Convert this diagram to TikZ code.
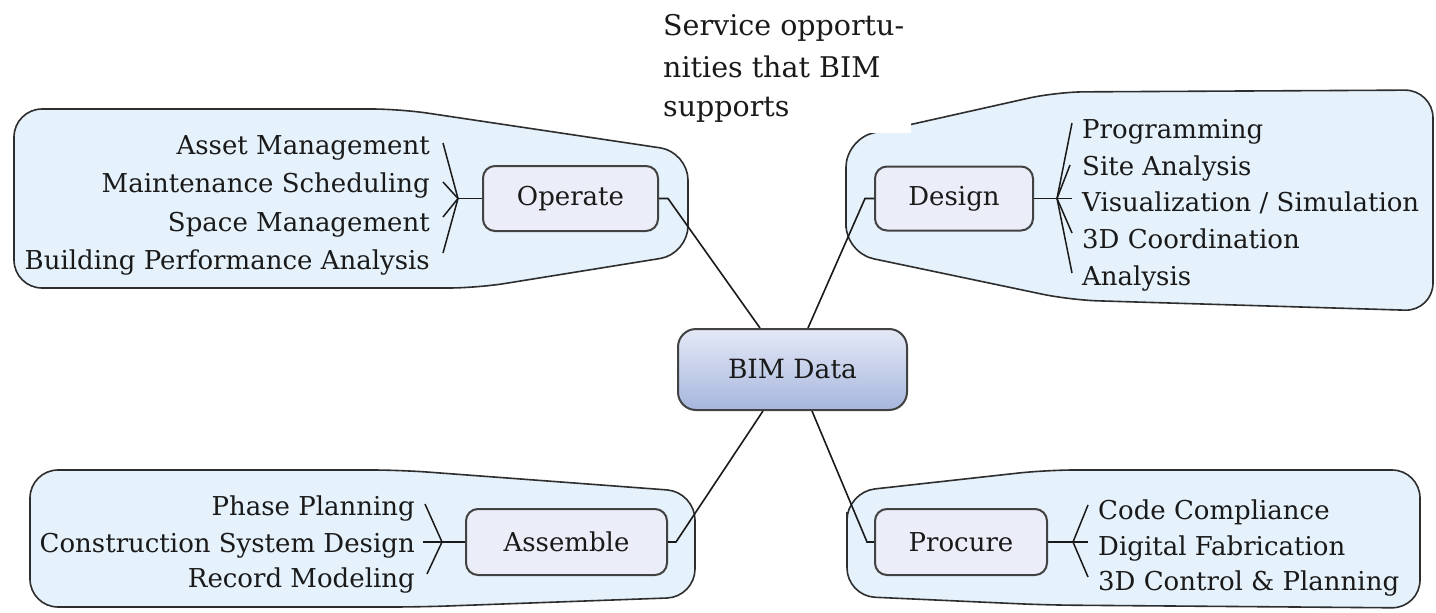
\documentclass[tikz,border=0pt]{standalone}
\usepackage{fontspec}
\setmainfont{DejaVu Serif}
\usetikzlibrary{calc}
\definecolor{blobfill}{HTML}{E5F1FB}
\definecolor{blobline}{HTML}{2E2E2E}
\definecolor{boxfill}{HTML}{EBEEF8}
\definecolor{boxline}{HTML}{424242}
\definecolor{bimtop}{HTML}{E4E9F6}
\definecolor{bimbot}{HTML}{A6B6DD}
\definecolor{ink}{HTML}{1A1A1A}
\begin{document}
\begin{tikzpicture}[x=1pt,y=-1pt,
  blob/.style={draw=blobline, fill=blobfill, line width=1.6pt, rounded corners=28pt},
  smallbox/.style={draw=boxline, fill=boxfill, line width=2pt, rounded corners=12pt,
    inner sep=0pt, font=\fontsize{26}{31}\selectfont, text=ink},
  bimbox/.style={draw=boxline, top color=bimtop, bottom color=bimbot, line width=2pt,
    rounded corners=18pt, inner sep=0pt, font=\fontsize{26.5}{31}\selectfont, text=ink},
  itemtext/.style={inner sep=0pt, font=\fontsize{26}{31}\selectfont, text=ink},
  titletext/.style={inner sep=0pt, font=\fontsize{28.5}{36}\selectfont, text=ink},
  link/.style={draw=ink, line width=1.6pt},
  fan/.style={draw=ink, line width=1.5pt}
]
\useasboundingbox (0,0) rectangle (1436,613);
\fill[white] (0,0) rectangle (1436,613);

% group outlines
\draw[blob] (14,200) -- (14,109) -- (400,109) -- (688,152) -- (688,254) -- (477,288) -- (14,288) -- cycle;
\draw[blob] (846,200) -- (846,139) -- (1056,92) -- (1433,90) -- (1433,311) -- (1070,300) -- (846,253) -- cycle;
\draw[blob] (30,540) -- (30,470) -- (400,470) -- (695,492) -- (695,597) -- (420,607) -- (30,607) -- cycle;
\draw[blob] (847,540) -- (847,492) -- (1046,470) -- (1420,470) -- (1420,608) -- (1046,605) -- (847,596) -- cycle;

% title with its white ground
\fill[white] (655,0) rectangle (911,133);
\node[titletext, anchor=base west] (t1) at (663,35) {Service opportu-};
\node[titletext, anchor=base west] (t2) at (663,77) {nities that BIM};
\node[titletext, anchor=base west] (t3) at (663,116) {supports};

% main nodes
\node[bimbox, minimum width=229pt, minimum height=81pt] (bim) at (792.5,369.5) {BIM Data};
\node[smallbox, minimum width=175pt, minimum height=65pt] (operate) at (570.5,198.5) {Operate};
\node[smallbox, minimum width=158pt, minimum height=64pt] (design) at (954,198.5) {Design};
\node[smallbox, minimum width=201pt, minimum height=66pt] (assemble) at (566.5,542) {Assemble};
\node[smallbox, minimum width=172pt, minimum height=66pt] (procure) at (961,542) {Procure};

% connectors to the centre
\draw[link] (operate.east) -- ++(9,0) -- ($(bim.north)+(-32.5,0)$);
\draw[link] ($(bim.north)+(15.5,0)$) -- ($(design.west)+(-9,0)$) -- (design.west);
\draw[link] ($(bim.south)+(-29.5,0)$) -- ($(assemble.east)+(8,0)$) -- (assemble.east);
\draw[link] ($(bim.south)+(19.5,0)$) -- ($(procure.west)+(-7,0)$) -- (procure.west);

% Operate items
\node[itemtext, anchor=base east] (o1) at (430,154) {Asset Management};
\node[itemtext, anchor=base east] (o2) at (430,192.5) {Maintenance Scheduling};
\node[itemtext, anchor=base east] (o3) at (430,231) {Space Management};
\node[itemtext, anchor=base east] (o4) at (430,269.5) {Building Performance Analysis};
\coordinate (oj) at (458,198.5);
\coordinate (oe1) at (443,143);
\coordinate (oe2) at (443,182);
\coordinate (oe3) at (443,217);
\coordinate (oe4) at (443,253);
\draw[fan] (operate.west) -- (oj);
\foreach \e in {oe1,oe2,oe3,oe4} \draw[fan] (oj) -- (\e);

% Design items
\node[itemtext, anchor=base west] (d1) at (1082,138) {Programming};
\node[itemtext, anchor=base west] (d2) at (1082,175) {Site Analysis};
\node[itemtext, anchor=base west] (d3) at (1082,211) {Visualization / Simulation};
\node[itemtext, anchor=base west] (d4) at (1082,248) {3D Coordination};
\node[itemtext, anchor=base west] (d5) at (1082,285) {Analysis};
\coordinate (dj) at (1057,198.5);
\coordinate (de1) at (1072,123);
\coordinate (de2) at (1070,165);
\coordinate (de3) at (1072,198.5);
\coordinate (de4) at (1072,233);
\coordinate (de5) at (1072,273);
\draw[fan] (design.east) -- (dj);
\foreach \e in {de1,de2,de3,de4,de5} \draw[fan] (dj) -- (\e);

% Assemble items
\node[itemtext, anchor=base east] (a1) at (415,515) {Phase Planning};
\node[itemtext, anchor=base east] (a2) at (415,552) {Construction System Design};
\node[itemtext, anchor=base east] (a3) at (415,587) {Record Modeling};
\coordinate (aj) at (442,542);
\coordinate (ae1) at (425,504);
\coordinate (ae2) at (423,542);
\coordinate (ae3) at (427,574);
\draw[fan] (assemble.west) -- (aj);
\foreach \e in {ae1,ae2,ae3} \draw[fan] (aj) -- (\e);

% Procure items
\node[itemtext, anchor=base west] (p1) at (1098,519) {Code Compliance};
\node[itemtext, anchor=base west] (p2) at (1098,555) {Digital Fabrication};
\node[itemtext, anchor=base west] (p3) at (1098,590) {3D Control \& Planning};
\coordinate (pj) at (1073,542);
\coordinate (pe1) at (1088,505);
\coordinate (pe2) at (1088,542);
\coordinate (pe3) at (1088,577);
\draw[fan] (procure.east) -- (pj);
\foreach \e in {pe1,pe2,pe3} \draw[fan] (pj) -- (\e);
\end{tikzpicture}
\end{document}
